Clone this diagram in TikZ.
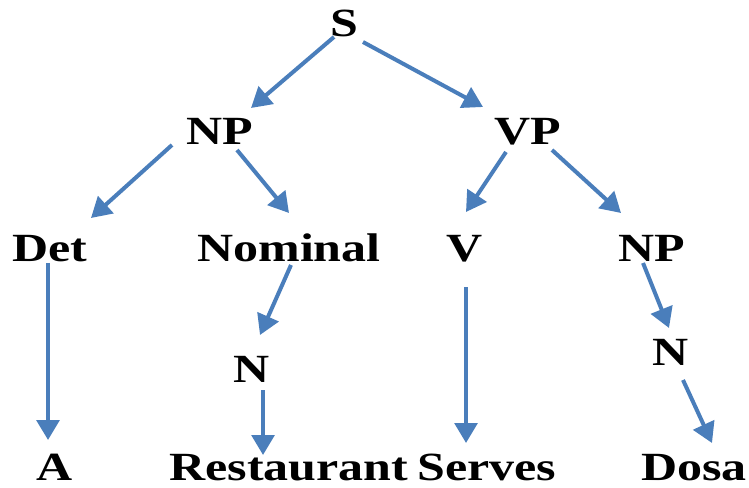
\documentclass[tikz,border=0pt]{standalone}
\usepackage{fontspec}
\newfontfamily\lblfont{Liberation Serif}[FakeStretch=1.25]
\usetikzlibrary{arrows.meta}
\definecolor{arrblue}{RGB}{74,126,187}
\begin{document}
\begin{tikzpicture}[x=0.75pt,y=-0.75pt,
  lbl/.style={inner sep=0pt,anchor=base,font=\lblfont\bfseries\fontsize{30}{36}\selectfont},
  arr/.style={draw=arrblue,line width=3pt,-{Triangle[length=15pt,width=17pt]}}]
\useasboundingbox (0,0) rectangle (749,488);
\node[lbl] (S) at (344,37) {S};
\node[lbl] (NP) at (220,145) {NP};
\node[lbl] (VP) at (528,145) {VP};
\node[lbl] (Det) at (50,262) {Det};
\node[lbl] (Nom) at (289,262) {Nominal};
\node[lbl] (V) at (465,262) {V};
\node[lbl] (NPb) at (652,262) {NP};
\node[lbl] (Na) at (252,382) {N};
\node[lbl] (Nb) at (671,365) {N};
\node[lbl] (A) at (55,480) {A};
\node[lbl] (Rest) at (289,480) {Restaurant};
\node[lbl] (Serv) at (487,480) {Serves};
\node[lbl] (Dosa) at (694,480) {Dosa};
\draw[arr] ([shift={(-10,0)}]S.base) -- ([shift={(31,-37)}]NP.base);
\draw[arr] ([shift={(19,5)}]S.base) -- ([shift={(-45,-38)}]VP.base);
\draw[arr] ([shift={(-48,0)}]NP.base) -- ([shift={(41,-44)}]Det.base);
\draw[arr] ([shift={(17,5)}]NP.base) -- ([shift={(0,-49)}]Nom.base);
\draw[arr] ([shift={(-22,7)}]VP.base) -- ([shift={(1,-50)}]V.base);
\draw[arr] ([shift={(24,5)}]VP.base) -- ([shift={(-31,-49)}]NPb.base);
\draw[arr] ([shift={(-2,1)}]Det.base) -- ([shift={(-7,-40)}]A.base);
\draw[arr] ([shift={(2,3)}]Nom.base) -- ([shift={(8,-47)}]Na.base);
\draw[arr] ([shift={(11,8)}]Na.base) -- ([shift={(-26,-25)}]Rest.base);
\draw[arr] ([shift={(1,25)}]V.base) -- ([shift={(-21,-37)}]Serv.base);
\draw[arr] ([shift={(-9,1)}]NPb.base) -- ([shift={(-2,-37)}]Nb.base);
\draw[arr] ([shift={(12,15)}]Nb.base) -- ([shift={(18,-37)}]Dosa.base);
\end{tikzpicture}
\end{document}
